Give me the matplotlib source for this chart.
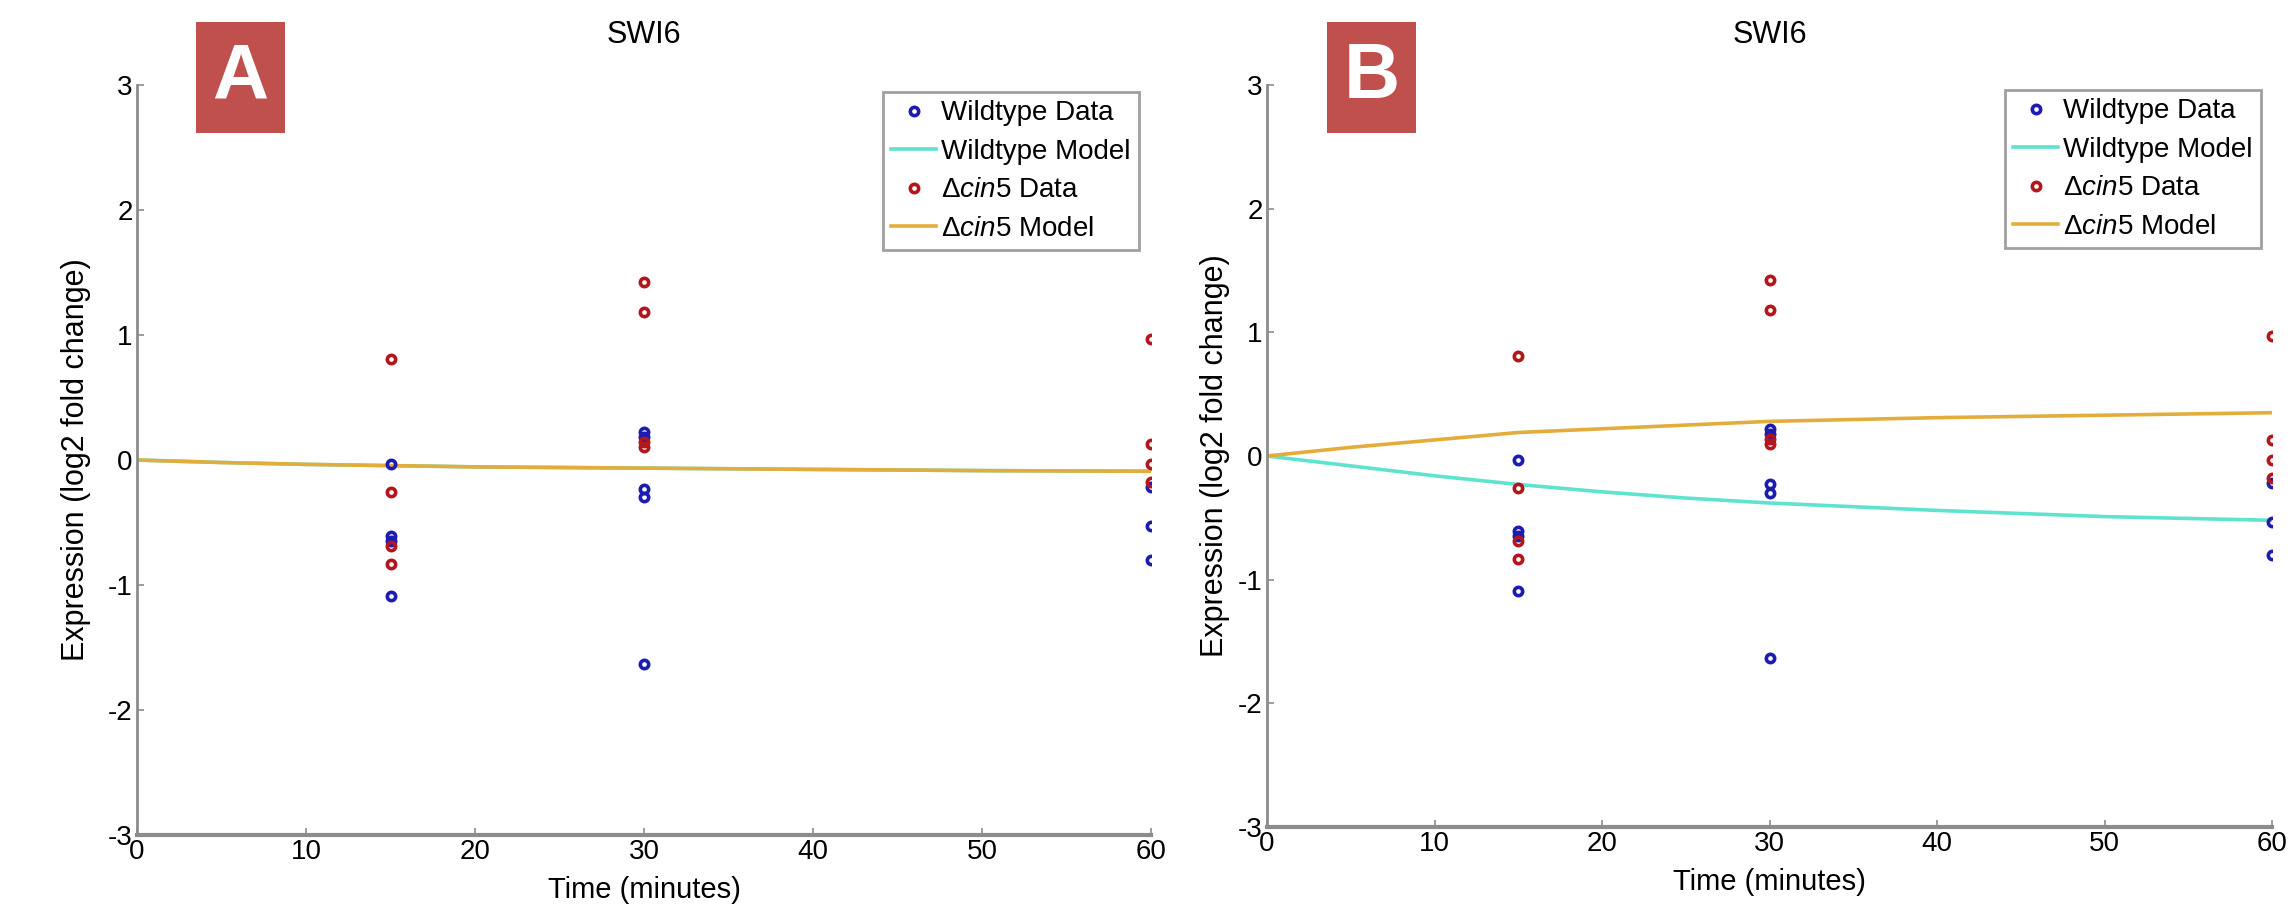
import matplotlib
matplotlib.use("Agg")
import matplotlib.pyplot as plt
from matplotlib.patches import Rectangle

plt.rcParams['font.family'] = ['Liberation Sans Narrow', 'Liberation Sans', 'DejaVu Sans']
plt.rcParams['mathtext.fontset'] = 'custom'
plt.rcParams['mathtext.rm'] = 'Liberation Sans'
plt.rcParams['mathtext.it'] = 'Liberation Sans:italic'
plt.rcParams['mathtext.sf'] = 'Liberation Sans'
plt.rcParams['axes.unicode_minus'] = False

# ---------------- data ----------------
gene = "SWI6"
panel_labels = ["A", "B"]

wt_t = [15, 15, 15, 15, 30, 30, 30, 30, 30, 60, 60, 60]
wt_y = [-0.03, -0.61, -0.65, -1.09, 0.22, 0.18, -0.23, -0.30, -1.63, -0.22, -0.53, -0.80]

cin_t = [15, 15, 15, 15, 30, 30, 30, 30, 60, 60, 60, 60]
cin_y = [0.81, -0.26, -0.69, -0.83, 1.42, 1.18, 0.14, 0.10, 0.97, 0.13, -0.03, -0.18]

model_t = [0, 5, 10, 15, 20, 25, 30, 40, 50, 60]
# Panel A: both models nearly flat and overlapping
wtA_model = [0.0, -0.02, -0.035, -0.045, -0.055, -0.06, -0.065, -0.075, -0.085, -0.09]
cinA_model = [0.0, -0.02, -0.035, -0.045, -0.055, -0.06, -0.065, -0.075, -0.085, -0.09]
# Panel B
wtB_model = [0.0, -0.08, -0.16, -0.23, -0.29, -0.34, -0.38, -0.44, -0.49, -0.52]
cinB_model = [0.0, 0.07, 0.13, 0.19, 0.22, 0.25, 0.28, 0.31, 0.33, 0.35]

xticks = [0, 10, 20, 30, 40, 50, 60]
yticks = [-3, -2, -1, 0, 1, 2, 3]

# ---------------- style ----------------
c_wt_pts = '#1c1cb0'
c_cin_pts = '#b3161c'
c_wt_line = '#5fe3cf'
c_cin_line = '#e3ad3c'
axis_gray = '#8c8c8c'

W, H = 2296, 905
fig = plt.figure(figsize=(W / 100, H / 100), dpi=100)

def fx(px):
    return px / W

def fy(py):
    return 1 - py / H

axes_px = [(137, 1151, 85, 835), (1267, 2272, 85, 827)]
models = [(wtA_model, cinA_model), (wtB_model, cinB_model)]
ylabel_x = [76, 1215]
box_px = [(196, 285, 22, 133), (1327, 1416, 22, 133)]
legend_px = [(883, 1145, 92, 252), (2005, 2266, 90, 248)]

for i in range(2):
    l, r, t, b = axes_px[i]
    ax = fig.add_axes([fx(l), fy(b), fx(r) - fx(l), fy(t) - fy(b)])
    wm, cm = models[i]
    ax.plot(wt_t, wt_y, linestyle='none', marker='o', ms=6, mfc='none',
            mec=c_wt_pts, mew=2.6, label='Wildtype Data', zorder=3)
    ax.plot(model_t, wm, color=c_wt_line, lw=2.6, label='Wildtype Model', zorder=2)
    ax.plot(cin_t, cin_y, linestyle='none', marker='o', ms=6, mfc='none',
            mec=c_cin_pts, mew=2.6, label=r'$\Delta\mathit{cin5}$ Data', zorder=3)
    ax.plot(model_t, cm, color=c_cin_line, lw=2.6, label=r'$\Delta\mathit{cin5}$ Model', zorder=2)

    ax.set_xlim(0, 60)
    ax.set_ylim(-3, 3)
    ax.set_xticks(xticks)
    ax.set_yticks(yticks)
    ax.tick_params(direction='in', length=5, width=1.2, color=axis_gray,
                   labelsize=20, pad=3)
    for s in ['top', 'right']:
        ax.spines[s].set_visible(False)
    ax.spines['left'].set_color(axis_gray)
    ax.spines['left'].set_linewidth(2)
    ax.spines['bottom'].set_color(axis_gray)
    ax.spines['bottom'].set_linewidth(3)
    ax.set_facecolor('white')

    ax.set_title(gene, fontsize=22, pad=30)
    ax.set_xlabel('Time (minutes)', fontsize=21, labelpad=8)
    fig.text(fx(ylabel_x[i]), fy((t + b) / 2), 'Expression (log2 fold change)',
             rotation=90, ha='center', va='center', fontsize=22,
             family=['Liberation Sans', 'DejaVu Sans'])

    # legend
    ll, lr, lt, lb = legend_px[i]
    leg = ax.legend(loc='upper left',
                    bbox_to_anchor=((ll - l) / (r - l), (b - lt) / (b - t)),
                    fontsize=20, frameon=True, fancybox=False, framealpha=1,
                    edgecolor='#a0a0a0', handlelength=1.6, handletextpad=0.2,
                    borderpad=0.3, labelspacing=0.45, borderaxespad=0)
    leg.get_frame().set_linewidth(2)

    # panel label box
    bl, br, bt, bb = box_px[i]
    fig.patches.append(Rectangle((fx(bl), fy(bb)), fx(br) - fx(bl), fy(bt) - fy(bb),
                                 transform=fig.transFigure, facecolor='#c0504d',
                                 edgecolor='none', zorder=5))
    fig.text(fx((bl + br) / 2), fy((bt + bb) / 2), panel_labels[i], ha='center',
             va='center', color='white', fontsize=56, fontweight='bold',
             family=['Liberation Sans', 'DejaVu Sans'], zorder=6)

fig.savefig('out.png', dpi=100)
